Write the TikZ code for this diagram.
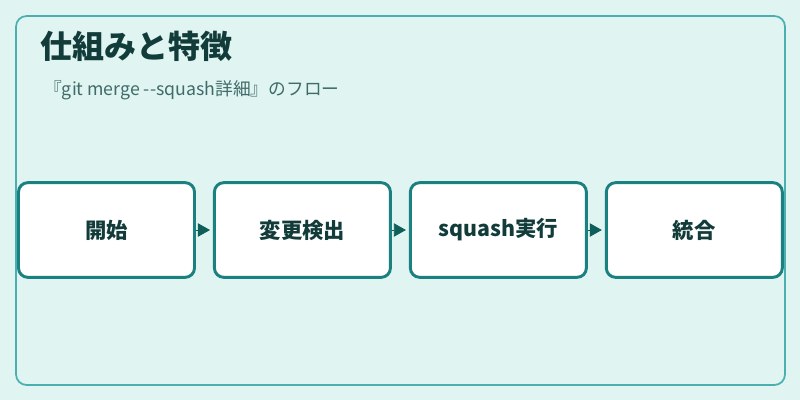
\documentclass[tikz,border=0pt]{standalone}
\usepackage{fontspec}
\setmainfont{Noto Sans CJK JP}
\usetikzlibrary{positioning, arrows.meta}
\definecolor{bgteal}{HTML}{E0F4F2}
\definecolor{frameteal}{HTML}{4AAFAF}
\definecolor{boxteal}{HTML}{1A8080}
\definecolor{arrowteal}{HTML}{0E5E5A}
\definecolor{titleink}{HTML}{123C3A}
\definecolor{subink}{HTML}{3F6B68}

\begin{document}
\begin{tikzpicture}[
                x=0.75pt, y=-0.75pt,
                >={Triangle[length=9pt, width=10pt]},
                node distance=12.75pt,
                stage/.style={draw=boxteal, line width=2.2pt, fill=white, rounded corners=7pt,
                    minimum width=132pt, minimum height=71pt, inner sep=0pt,
                    font=\fontsize{16pt}{19pt}\selectfont\bfseries, text=titleink},
                flow/.style={->, draw=arrowteal, fill=arrowteal, line width=0.6pt},
            ]
                % background and frame
                \useasboundingbox (0,0) rectangle (800,400);
                \fill[bgteal] (0,0) rectangle (800,400);
                \draw[frameteal, line width=1.3pt, rounded corners=8pt] (16,16) rectangle (785,385);

                % headings
                \node[anchor=west, inner sep=0pt, text=titleink, font=\fontsize{24pt}{28pt}\selectfont\bfseries] (title) at (40,46) {仕組みと特徴};
                \node[anchor=west, inner sep=0pt, text=subink, font=\fontsize{13.3pt}{16pt}\selectfont] (subtitle) at (44,90) {『git merge -{}-squash詳細』のフロー};

                % flow stages
                \node[stage] (S-1) at (106.5,230) {開始};
                \node[stage, right=of S-1] (S-2) {変更検出};
                \node[stage, right=of S-2] (S-3) {squash実行};
                \node[stage, right=of S-3] (S-4) {統合};

                % connect the stages
                \foreach \source/\dest in {1/2, 2/3, 3/4}
                    \draw[flow, shorten >=2.25pt] (S-\source) -- (S-\dest);
            \end{tikzpicture}
\end{document}
